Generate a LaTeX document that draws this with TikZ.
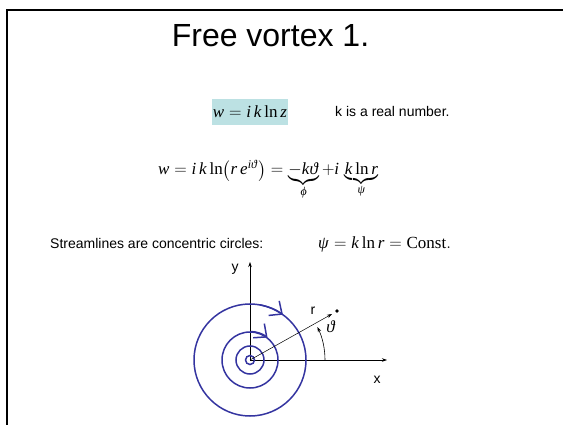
\documentclass[tikz,border=0pt]{standalone}
\usepackage{amsmath}
\usepackage{mathspec}
\setmainfont{Liberation Sans}
\setmathsfont(Digits,Latin,Greek){Liberation Serif}
\setmathrm{Liberation Serif}
\usetikzlibrary{arrows.meta}
\definecolor{vortexblue}{HTML}{3434A0}
\definecolor{hilite}{HTML}{BCE1E3}
\tikzset{
  txt/.style={font=\fontsize{14}{16}\selectfont, inner sep=0pt, anchor=base west},
  eqn/.style={font=\fontsize{17}{20}\selectfont, inner sep=0pt},
  axis/.style={line width=0.6pt, -{Stealth[length=5pt,width=3.5pt]}},
  streamline/.style={draw=vortexblue, line width=1.5pt},
  flowtip/.style={streamline, -{Straight Barb[length=10pt,width=18pt,line width=1.5pt]}},
}

\begin{document}
\begin{tikzpicture}[x=1pt,y=1pt]
    \useasboundingbox (0,0) rectangle (563,424);
    \draw[line width=2pt] (7,-2) -- (7,414) -- (566,414);
    \node[font=\fontsize{32}{36}\selectfont, inner sep=0pt, anchor=base] (title) at (270.5,377) {Free vortex 1.};
    % potential
    \fill[hilite] (212,299) rectangle (288,325);
    \node[eqn] (wz) at (250,312) {$w=i\,k\ln z$};
    \node[txt] (kreal) at (335,307) {k is a real number.};
    \node[eqn, anchor=base west] (wfull) at (158,249) {$w=i\,k\ln\!\left(r\,e^{i\vartheta}\right)=\underbrace{-k\vartheta}_{\varphi}+i\,\underbrace{k\ln r}_{\psi}$};
    \node[txt] (stream) at (50,176) {Streamlines are concentric circles:};
    \node[eqn, anchor=base west] (psi) at (318,176) {$\psi=k\ln r=\mathrm{Const.}$};
    % axes
    \coordinate (o) at (250,64);
    \coordinate (xend) at (387,64);
    \coordinate (yend) at (250,162);
    \draw[axis] (o) -- (xend);
    \draw[axis] (o) -- (yend);
    \node[txt, anchor=center] (xlab) at (377,44) {x};
    \node[txt, anchor=center] (ylab) at (235,155) {y};
    % streamlines
    \foreach \rad in {56,28,14,4.5}
      \draw[streamline] (o) circle (\rad);
    \draw[flowtip] ([shift={(80:56)}]o) arc (80:54:56);
    \draw[flowtip] ([shift={(88:28.5)}]o) arc (88:52:28.5);
    % radius and angle
    \coordinate (rend) at (332,110);
    \draw[line width=0.5pt, -{Stealth[length=5pt,width=3.5pt]}] (o) -- (rend);
    \fill (337,113) circle (1.8);
    \node[txt, anchor=center] (rlab) at (313,113) {r};
    \draw[line width=0.6pt, -{Stealth[length=5pt,width=3.5pt]}] ([shift={(0:75)}]o) arc (0:26:75);
    \node[eqn, anchor=center] (thlab) at (331,97) {$\vartheta$};
\end{tikzpicture}
\end{document}
